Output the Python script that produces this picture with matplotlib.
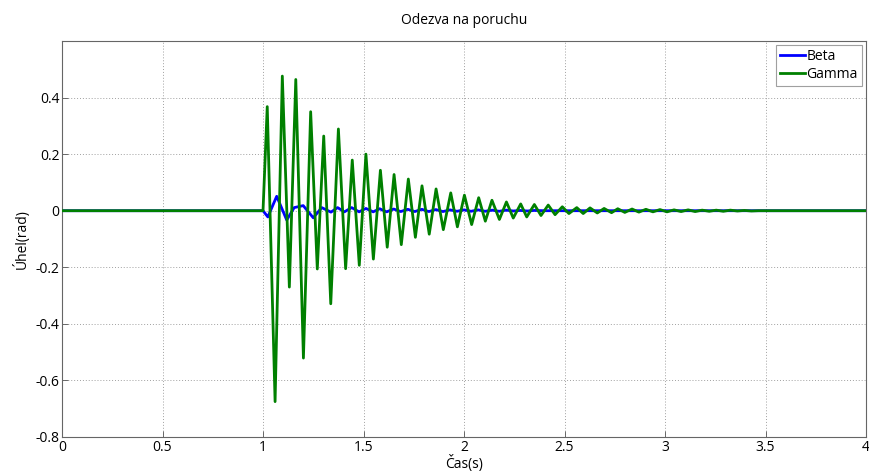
import matplotlib
matplotlib.use('Agg')
from matplotlib import pyplot as plt

# peaks / troughs (time in s, angle in rad)
t_gamma = [0.0, 1.000, 1.021, 1.060, 1.096, 1.131, 1.163, 1.201, 1.237, 1.270,
           1.302, 1.337, 1.375, 1.411, 1.444, 1.479, 1.512, 1.549, 1.584, 1.618,
           1.652, 1.688, 1.723, 1.758, 1.791, 1.827, 1.861, 1.897, 1.934, 1.967,
           2.002, 2.038, 2.073, 2.106, 2.139, 2.176, 2.211, 2.245, 2.282, 2.312,
           2.350, 2.383, 2.419, 2.453, 2.489, 2.522, 2.561, 2.593, 2.627, 2.663,
           2.697, 2.734, 2.765, 2.800, 2.836, 2.870, 2.905, 2.940, 2.975, 3.010,
           3.045, 3.080, 3.115, 3.150, 3.185, 3.220, 3.255, 3.290, 3.325, 3.360,
           3.395, 3.430, 3.465, 4.0]
gamma = [0.0, 0.0, 0.368, -0.675, 0.476, -0.270, 0.464, -0.521, 0.350, -0.206,
         0.264, -0.329, 0.289, -0.205, 0.179, -0.193, 0.200, -0.171, 0.143, -0.129,
         0.128, -0.120, 0.112, -0.094, 0.088, -0.083, 0.077, -0.067, 0.063, -0.057,
         0.055, -0.049, 0.046, -0.037, 0.037, -0.031, 0.031, -0.026, 0.024, -0.022,
         0.022, -0.017, 0.020, -0.014, 0.014, -0.010, 0.011, -0.010, 0.010, -0.008,
         0.008, -0.007, 0.007, -0.006, 0.006, -0.005, 0.005, -0.004, 0.004, -0.004,
         0.003, -0.003, 0.003, -0.003, 0.002, -0.002, 0.002, -0.002, 0.002, -0.001,
         0.001, -0.001, 0.0, 0.0]

t_beta = [0.0, 1.000, 1.024, 1.068, 1.118, 1.155, 1.200, 1.250, 1.292, 1.338,
          1.371, 1.405, 1.441, 1.478, 1.512, 1.548, 1.580, 1.615, 1.650, 1.685,
          1.720, 1.755, 1.790, 1.825, 1.860, 1.895, 1.930, 1.965, 2.000, 2.035,
          2.070, 2.105, 2.140, 2.175, 2.210, 2.245, 2.280, 2.315, 2.350, 2.400, 4.0]
beta = [0.0, 0.0, -0.022, 0.051, -0.033, 0.011, 0.018, -0.025, 0.011, -0.005,
        0.011, -0.004, 0.011, -0.004, 0.008, -0.004, 0.007, -0.004, 0.006, -0.003,
        0.005, -0.003, 0.005, -0.003, 0.004, -0.003, 0.003, -0.002, 0.003, -0.002,
        0.003, -0.002, 0.002, -0.002, 0.002, -0.001, 0.001, -0.001, 0.001, 0.0, 0.0]

x_ticks = [0, 0.5, 1, 1.5, 2, 2.5, 3, 3.5, 4]
x_ticklabels = ['0', '0.5', '1', '1.5', '2', '2.5', '3', '3.5', '4']
y_ticks = [-0.8, -0.6, -0.4, -0.2, 0, 0.2, 0.4]
y_ticklabels = ['-0.8', '-0.6', '-0.4', '-0.2', '0', '0.2', '0.4']

plt.rcParams['font.family'] = ['Open Sans', 'DejaVu Sans']

fig = plt.figure(figsize=(8.70, 4.72), dpi=100)
ax = fig.add_axes([0.0713, 0.0742, 0.9241, 0.8389])

ax.plot(t_beta, beta, color=(0, 0, 1), lw=2.0, label='Beta', zorder=2,
        solid_joinstyle='round')
ax.plot(t_gamma, gamma, color=(0, 0.5, 0), lw=2.0, label='Gamma', zorder=3,
        solid_joinstyle='round')

ax.set_xlim(0, 4)
ax.set_ylim(-0.8, 0.6)
ax.set_xticks(x_ticks)
ax.set_xticklabels(x_ticklabels)
ax.set_yticks(y_ticks)
ax.set_yticklabels(y_ticklabels)
ax.tick_params(direction='in', length=4, width=0.6, color='#555555',
               labelsize=10, pad=2)

# grid
ax.grid(True, linestyle=(0, (1, 2)), color='#a0a0a0', linewidth=0.7)
for s in ax.spines.values():
    s.set_color('#666666')
    s.set_linewidth(0.8)

# labels
ax.set_title('Odezva na poruchu', fontsize=10, pad=12)
ax.set_xlabel('Čas(s)', fontsize=10, labelpad=0)
ax.set_ylabel('Úhel(rad)', fontsize=10, labelpad=4)

leg = ax.legend(loc='upper right', fontsize=10, frameon=True, fancybox=False,
                handlelength=1.8, handletextpad=0.1, borderpad=0.3,
                labelspacing=0.2, borderaxespad=0.3)
leg.get_frame().set_edgecolor('#888888')
leg.get_frame().set_linewidth(0.8)

fig.savefig('out.png', dpi=100)
plt.close()
